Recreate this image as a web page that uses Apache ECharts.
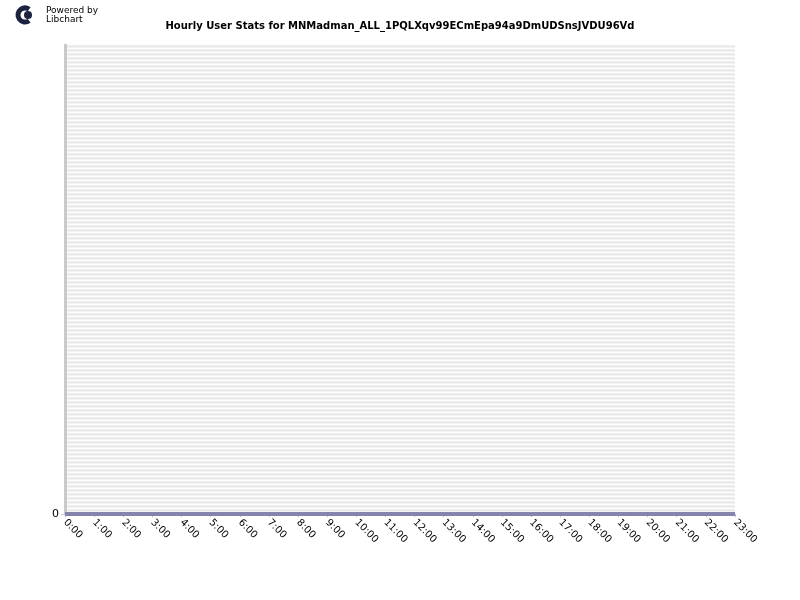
<!DOCTYPE html>
<html><head><meta charset="utf-8">
<script src="https://cdn.jsdelivr.net/npm/echarts@6/dist/echarts.min.js"></script>
<style>html,body{margin:0;padding:0;background:#fff}#c{width:800px;height:600px}</style>
</head><body><div id="c"></div>
<script>
const titleText = 'Hourly User Stats for MNMadman_ALL_1PQLXqv99ECmEpa94a9DmUDSnsJVDU96Vd';
const hours = ['0:00','1:00','2:00','3:00','4:00','5:00','6:00','7:00','8:00','9:00','10:00','11:00','12:00','13:00','14:00','15:00','16:00','17:00','18:00','19:00','20:00','21:00','22:00','23:00'];
const users = [0,0,0,0,0,0,0,0,0,0,0,0,0,0,0,0,0,0,0,0,0,0,0,0];
const yTicks = [0];

const chart = echarts.init(document.getElementById('c'), null, {renderer:'canvas'});
const font = 'DejaVu Sans';
const stripeColors = ['#efefef','#fdfdfd','#f2f2f2','#e7e7e7'];
chart.setOption({
  animation:false,
  backgroundColor:'#fff',
  title:{text:titleText,left:'center',top:16,textStyle:{fontFamily:font,fontSize:10,fontWeight:'bold',color:'#000'}},
  graphic:[
    {type:'arc',shape:{cx:25,cy:15,r:7,startAngle:Math.PI*0.3,endAngle:Math.PI*1.7,clockwise:true},style:{stroke:'#1c2340',lineWidth:5,fill:null}},
    {type:'circle',shape:{cx:28,cy:15,r:4},style:{fill:'#1c2340'}},
    {type:'text',left:46,top:6,style:{text:'Powered by',font:'9px '+font,fill:'#000'}},
    {type:'text',left:46,top:15,style:{text:'Libchart',font:'9px '+font,fill:'#000'}}
  ],
  grid:{left:65,right:65,top:45,bottom:86,containLabel:false},
  xAxis:{type:'category',data:hours,boundaryGap:false,
    axisLine:{show:true,lineStyle:{color:'#c8c8e4',width:1}},
    axisTick:{show:true,alignWithLabel:true,length:3,lineStyle:{color:'#b8b8dc'}},
    axisLabel:{rotate:-45,fontFamily:font,fontSize:10,color:'#000',margin:7,interval:0},
    splitLine:{show:false}},
  yAxis:[
    {type:'value',min:0,max:1,
      axisLine:{show:true,lineStyle:{color:'#c9c9c9',width:3}},
      axisTick:{show:true,length:4,customValues:yTicks,lineStyle:{color:'#c9c9c9'}},
      axisLabel:{customValues:yTicks,fontFamily:font,fontSize:11,color:'#000',margin:6},
      splitLine:{show:false}},
    {type:'value',min:0,max:469,interval:1,position:'right',
      axisLine:{show:false},axisTick:{show:false},axisLabel:{show:false},
      splitLine:{show:false},
      splitArea:{show:true,areaStyle:{color:stripeColors}}}
  ],
  series:[{type:'line',data:users,yAxisIndex:0,symbol:'none',
    lineStyle:{color:'#8484ac',width:4},z:5}]
});
</script></body></html>
